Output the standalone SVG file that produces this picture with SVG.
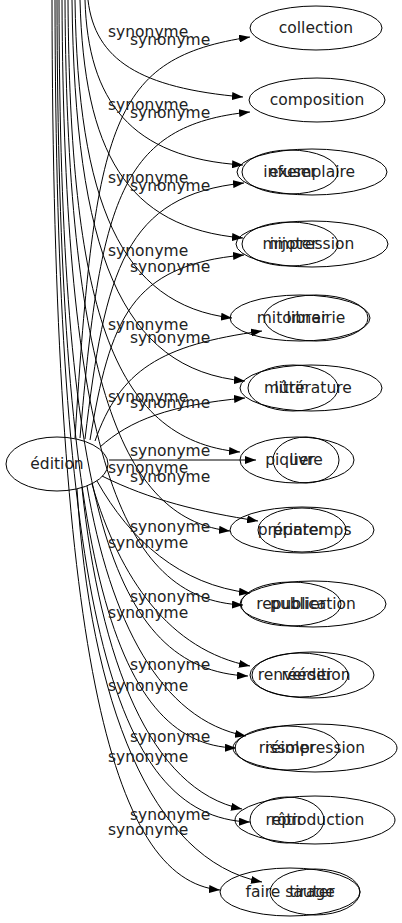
<svg xmlns="http://www.w3.org/2000/svg" width="402" height="923" viewBox="0 0 402 923">
<defs>
<marker id="ah" markerWidth="11" markerHeight="8" refX="11" refY="4" orient="auto" markerUnits="userSpaceOnUse">
<path d="M0,0 L11,4 L0,8 z" fill="#000"/>
</marker>
<style>
.n ellipse{fill:none;stroke:#000;stroke-width:1}
.n text,.l{font-family:"DejaVu Sans",sans-serif;font-size:15.5px;fill:#222}
.n text{text-anchor:middle}
#edges path{fill:none;stroke:#000;stroke-width:1;marker-end:url(#ah)}
</style>
</defs>
<rect width="402" height="923" fill="#fff"/>
<g id="edges">
<path d="M75,438 C95,120 112,58 250,37"/>
<path d="M80,438 C100,200 120,125 250,112"/>
<path d="M85,439 C105,270 125,195 244,183"/>
<path d="M90,440 C110,320 130,265 244,255"/>
<path d="M95,441 C120,370 160,345 262,331"/>
<path d="M100,447 C130,420 170,405 245,398"/>
<path d="M109,460 L256,460"/>
<path d="M102,476 C150,500 200,512 258,521"/>
<path d="M97,481 C130,540 180,585 250,593"/>
<path d="M92,484 C120,580 170,650 250,666"/>
<path d="M87,486 C110,620 160,720 246,736"/>
<path d="M82,488 C100,660 150,790 242,809"/>
<path d="M77,489 C90,700 150,860 262,882"/>
<path d="M88,0 C95,60 140,88 243,97"/>
<path d="M85,0 C88,100 130,158 243,165"/>
<path d="M80,0 C84,150 125,228 243,238"/>
<path d="M75,0 C78,200 120,305 232,318"/>
<path d="M72,0 C75,250 120,370 245,381"/>
<path d="M68,0 C70,300 110,440 240,452"/>
<path d="M65,0 C67,400 130,520 230,531"/>
<path d="M62,0 C64,450 120,600 243,605"/>
<path d="M59,0 C60,500 110,670 248,676"/>
<path d="M57,0 C58,550 110,745 236,748"/>
<path d="M55,0 C56,600 110,818 250,822"/>
<path d="M52,0 C53,650 110,880 220,890"/>
</g>
<g id="labels">
<text class="l" x="108" y="37">synonyme</text>
<text class="l" x="130" y="45">synonyme</text>
<text class="l" x="108" y="110">synonyme</text>
<text class="l" x="130" y="118">synonyme</text>
<text class="l" x="108" y="183">synonyme</text>
<text class="l" x="130" y="191">synonyme</text>
<text class="l" x="108" y="256">synonyme</text>
<text class="l" x="130" y="272">synonyme</text>
<text class="l" x="108" y="330">synonyme</text>
<text class="l" x="130" y="343">synonyme</text>
<text class="l" x="108" y="402">synonyme</text>
<text class="l" x="130" y="408">synonyme</text>
<text class="l" x="130" y="456">synonyme</text>
<text class="l" x="108" y="473">synonyme</text>
<text class="l" x="130" y="482">synonyme</text>
<text class="l" x="130" y="532">synonyme</text>
<text class="l" x="108" y="548">synonyme</text>
<text class="l" x="130" y="602">synonyme</text>
<text class="l" x="108" y="618">synonyme</text>
<text class="l" x="130" y="670">synonyme</text>
<text class="l" x="108" y="691">synonyme</text>
<text class="l" x="130" y="742">synonyme</text>
<text class="l" x="108" y="762">synonyme</text>
<text class="l" x="130" y="820">synonyme</text>
<text class="l" x="108" y="835">synonyme</text>
</g>
<g id="edition" class="n"><ellipse cx="57" cy="464" rx="51" ry="27"/><text x="57" y="469">édition</text></g>
<g id="collection" class="n"><ellipse cx="316" cy="28" rx="66" ry="22"/><text x="316" y="33">collection</text></g>
<g id="composition" class="n"><ellipse cx="317" cy="100" rx="68" ry="22"/><text x="317" y="105">composition</text></g>
<g id="exemplaire" class="n"><ellipse cx="312" cy="172" rx="75" ry="23"/><text x="312" y="177">exemplaire</text></g>
<g id="infuser" class="n"><ellipse cx="290" cy="172" rx="48" ry="22"/><text x="290" y="177">infuser</text></g>
<g id="impression" class="n"><ellipse cx="312" cy="244" rx="76" ry="23"/><text x="312" y="249">impression</text></g>
<g id="mijoter" class="n"><ellipse cx="290" cy="244" rx="48" ry="22"/><text x="290" y="249">mijoter</text></g>
<g id="librairie" class="n"><ellipse cx="316" cy="318" rx="52" ry="23"/><text x="316" y="323">librairie</text></g>
<g id="mitonner" class="n"><ellipse cx="300" cy="318" rx="70" ry="23"/><text x="292" y="323">mitonner</text></g>
<g id="litterature" class="n"><ellipse cx="311" cy="388" rx="71" ry="23"/><text x="313" y="393">littérature</text></g>
<g id="murir" class="n"><ellipse cx="293" cy="388" rx="45" ry="23"/><text x="285" y="393">mûrir</text></g>
<g id="livre" class="n"><ellipse cx="306" cy="460" rx="33" ry="23"/><text x="306" y="465">livre</text></g>
<g id="piquer" class="n"><ellipse cx="297" cy="460" rx="57" ry="23"/><text x="290" y="465">piquer</text></g>
<g id="printemps" class="n"><ellipse cx="302" cy="530" rx="72" ry="23"/><text x="312" y="535">printemps</text></g>
<g id="preparer" class="n"><ellipse cx="302" cy="530" rx="44" ry="22"/><text x="291" y="535">préparer</text></g>
<g id="publication" class="n"><ellipse cx="313" cy="604" rx="73" ry="23"/><text x="313" y="609">publication</text></g>
<g id="republier" class="n"><ellipse cx="291" cy="604" rx="50" ry="22"/><text x="291" y="609">republier</text></g>
<g id="reedition" class="n"><ellipse cx="312" cy="675" rx="62" ry="23"/><text x="316" y="680">réédition</text></g>
<g id="renverser" class="n"><ellipse cx="300" cy="675" rx="48" ry="22"/><text x="295" y="680">renverser</text></g>
<g id="reimpression" class="n"><ellipse cx="315" cy="748" rx="82" ry="24"/><text x="315" y="753">réimpression</text></g>
<g id="rissoler" class="n"><ellipse cx="287" cy="748" rx="52" ry="22"/><text x="287" y="753">rissoler</text></g>
<g id="reproduction" class="n"><ellipse cx="315" cy="820" rx="80" ry="24"/><text x="315" y="825">reproduction</text></g>
<g id="rotir" class="n"><ellipse cx="287" cy="820" rx="37" ry="23"/><text x="287" y="825">rôtir</text></g>
<g id="faire-sauter" class="n"><ellipse cx="290" cy="892" rx="70" ry="24"/><text x="290" y="897">faire sauter</text></g>
<g id="tirage" class="n"><ellipse cx="315" cy="892" rx="45" ry="23"/><text x="312" y="897">tirage</text></g>
</svg>
